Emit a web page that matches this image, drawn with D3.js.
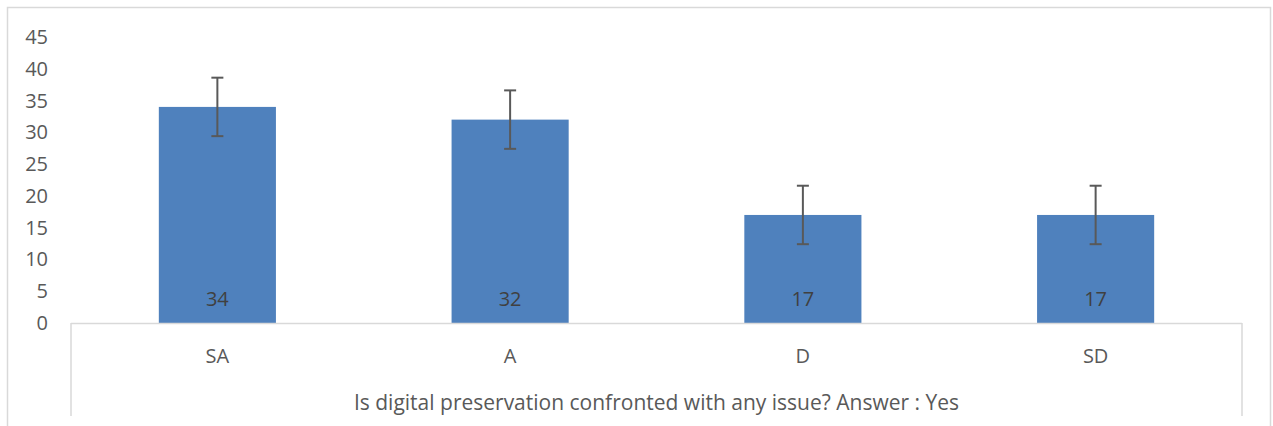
<!DOCTYPE html>
<html><head><meta charset="utf-8">
<script src="https://cdn.jsdelivr.net/npm/d3@7"></script>
<style>body{margin:0;background:#fff}svg{display:block}</style>
</head><body>
<svg id="c" width="1273" height="426"></svg>
<script>
const categories = ["SA", "A", "D", "SD"];
const values = [34, 32, 17, 17];
const errors = [4.6, 4.6, 4.6, 4.6];
const yTicks = [0, 5, 10, 15, 20, 25, 30, 35, 40, 45];
const xTitle = "Is digital preservation confronted with any issue? Answer : Yes";

const svg = d3.select("#c");
const font = "'Open Sans', sans-serif";
const textColor = "#595959";
const left = 71, right = 1242, y0 = 323, yTop = 37;

// outer border
svg.append("rect").attr("x", 7.5).attr("y", 7.5).attr("width", 1263).attr("height", 430)
  .attr("fill", "none").attr("stroke", "#d9d9d9").attr("stroke-width", 1.5);

const x = d3.scaleBand().domain(categories).range([left, right]).padding(0);
const y = d3.scaleLinear().domain([0, 45]).range([y0, yTop]);
const bw = x.bandwidth() * 0.4;

// y labels
svg.append("g").selectAll("text").data(yTicks).join("text")
  .attr("x", 48).attr("y", d => y(d)).attr("dy", "0.35em").attr("text-anchor", "end")
  .attr("font-family", font).attr("font-size", 20).attr("fill", textColor).text(d => d);

// bars
svg.append("g").selectAll("rect").data(values).join("rect")
  .attr("x", (d, i) => x(categories[i]) + x.bandwidth() / 2 - bw / 2)
  .attr("y", d => y(d)).attr("width", bw).attr("height", d => y0 - y(d))
  .attr("fill", "#4F81BD");

// value labels
svg.append("g").selectAll("text").data(values).join("text")
  .attr("x", (d, i) => x(categories[i]) + x.bandwidth() / 2)
  .attr("y", y0 - 24).attr("dy", "0.35em").attr("text-anchor", "middle")
  .attr("font-family", font).attr("font-size", 20).attr("fill", "#404040").text(d => d);

// error bars
const eg = svg.append("g").attr("stroke", "#595959").attr("stroke-width", 2).attr("fill", "none");
values.forEach((v, i) => {
  const cx = x(categories[i]) + x.bandwidth() / 2;
  const t = y(v + errors[i]), b = y(v - errors[i]);
  eg.append("line").attr("x1", cx).attr("x2", cx).attr("y1", t).attr("y2", b);
  eg.append("line").attr("x1", cx - 6).attr("x2", cx + 6).attr("y1", t).attr("y2", t);
  eg.append("line").attr("x1", cx - 6).attr("x2", cx + 6).attr("y1", b).attr("y2", b);
});

// axis table box
const ag = svg.append("g").attr("stroke", "#d9d9d9").attr("stroke-width", 1.5);
ag.append("line").attr("x1", left).attr("x2", right).attr("y1", y0 + 0.5).attr("y2", y0 + 0.5);
ag.append("line").attr("x1", left).attr("x2", left).attr("y1", y0).attr("y2", 416);
ag.append("line").attr("x1", right).attr("x2", right).attr("y1", y0).attr("y2", 416);

// category labels
svg.append("g").selectAll("text").data(categories).join("text")
  .attr("x", d => x(d) + x.bandwidth() / 2).attr("y", 356).attr("dy", "0.35em")
  .attr("text-anchor", "middle").attr("font-family", font).attr("font-size", 20)
  .attr("fill", textColor).text(d => d);

// axis title
svg.append("text").attr("x", (left + right) / 2).attr("y", 403).attr("dy", "0.35em")
  .attr("text-anchor", "middle").attr("font-family", font).attr("font-size", 21)
  .attr("fill", textColor).text(xTitle);
</script>
</body></html>
